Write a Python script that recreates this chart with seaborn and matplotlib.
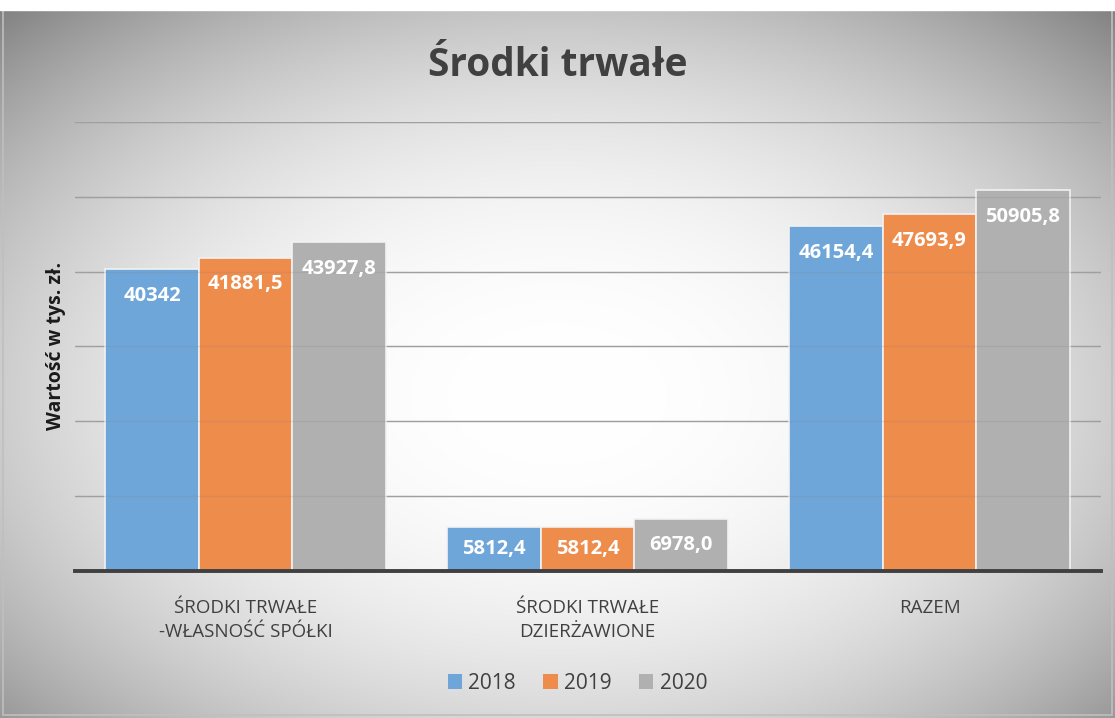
import matplotlib
matplotlib.use("Agg")
import matplotlib.pyplot as plt
import numpy as np
import pandas as pd
import seaborn as sns
from matplotlib.patches import Rectangle

categories = ["ŚRODKI TRWAŁE\n-WŁASNOŚĆ SPÓŁKI", "ŚRODKI TRWAŁE\nDZIERŻAWIONE", "RAZEM"]
years = ["2018", "2019", "2020"]
v2018 = [40342, 5812.4, 46154.4]
v2019 = [41881.5, 5812.4, 47693.9]
v2020 = [43927.8, 6978.0, 50905.8]
labels2018 = ["40342", "5812,4", "46154,4"]
labels2019 = ["41881,5", "5812,4", "47693,9"]
labels2020 = ["43927,8", "6978,0", "50905,8"]
colors = ["#6fa6d9", "#ee8c4c", "#b0b0b0"]

df = pd.DataFrame({
    "cat": categories * 3,
    "year": [y for y in years for _ in categories],
    "value": v2018 + v2019 + v2020,
})

sns.set_theme(style="white")
plt.rcParams["font.family"] = ["Open Sans", "DejaVu Sans"]
TXT = "#404040"

fig = plt.figure(figsize=(11.15, 7.18), dpi=100)

# radial gradient background
bg = fig.add_axes([0, 0, 1, 1], zorder=-10)
xx, yy = np.meshgrid(np.linspace(-1, 1, 400), np.linspace(-1, 1, 260))
r = np.sqrt((xx / 1.05) ** 2 + ((yy - 0.1) / 1.05) ** 2)
shade = 1.0 - 0.22 * np.clip(r, 0, 1.4) ** 2.4
bg.imshow(np.dstack([shade] * 3), aspect="auto", extent=[0, 1, 0, 1], origin="upper",
          vmin=0, vmax=1)
bg.add_patch(Rectangle((0.003, 0.004), 0.994, 0.982, transform=bg.transAxes,
                       fill=False, edgecolor="#bfbfbf", lw=1.2))
bg.add_patch(Rectangle((0, 0.986), 1, 0.014, transform=bg.transAxes, color="white"))
bg.set_axis_off()

ax = fig.add_axes([0.067, 0.205, 0.92, 0.625])
ax.set_facecolor("none")
sns.barplot(data=df, x="cat", y="value", hue="year", palette=colors, width=0.82,
            saturation=1, edgecolor="#f2f2f2", linewidth=1.2, ax=ax, legend=True)

ax.set_ylim(0, 60000)
ax.set_xlim(-0.5, 2.5)
ax.set_yticks(range(0, 60001, 10000))
ax.yaxis.grid(True, color="#a6a6a6", lw=1)
ax.set_axisbelow(True)
# faint gridlines seen through the bars
for yv in range(10000, 60001, 10000):
    ax.axhline(yv, color="#808080", lw=1, alpha=0.18, zorder=3)
ax.tick_params(axis="y", left=False, labelleft=False)
ax.tick_params(axis="x", bottom=False, labelsize=13.5, labelcolor=TXT, pad=14)
for lab in ax.get_xticklabels():
    lab.set_linespacing(1.45)
for s in ["top", "right", "left"]:
    ax.spines[s].set_visible(False)
ax.spines["bottom"].set_color(TXT)
ax.spines["bottom"].set_linewidth(2.8)
ax.spines["bottom"].set_zorder(5)

# value labels: inside end, centred in short bars
for cont, labs in zip(ax.containers, [labels2018, labels2019, labels2020]):
    for bar, lab in zip(cont, labs):
        h = bar.get_height()
        ax.text(bar.get_x() + bar.get_width() / 2, max(h - 3600, h / 2), lab,
                ha="center", va="center", color="white", fontsize=14.5,
                fontweight="bold", zorder=6)

ax.set_xlabel("")
ax.set_ylabel("Wartość w tys. zł.", fontsize=14, fontweight="bold", color="#1a1a1a", labelpad=6)
fig.suptitle("Środki trwałe", x=0.5, y=0.936, fontsize=28, fontweight="bold", color=TXT)

leg = ax.legend(loc="upper center", bbox_to_anchor=(0.49, -0.185), ncol=3, frameon=False,
                fontsize=15, labelcolor=TXT, handlelength=0.7, handleheight=0.7,
                handletextpad=0.3, columnspacing=1.3)
for h in leg.legend_handles:
    h.set_edgecolor("none")

fig.savefig("out.png", dpi=100)
